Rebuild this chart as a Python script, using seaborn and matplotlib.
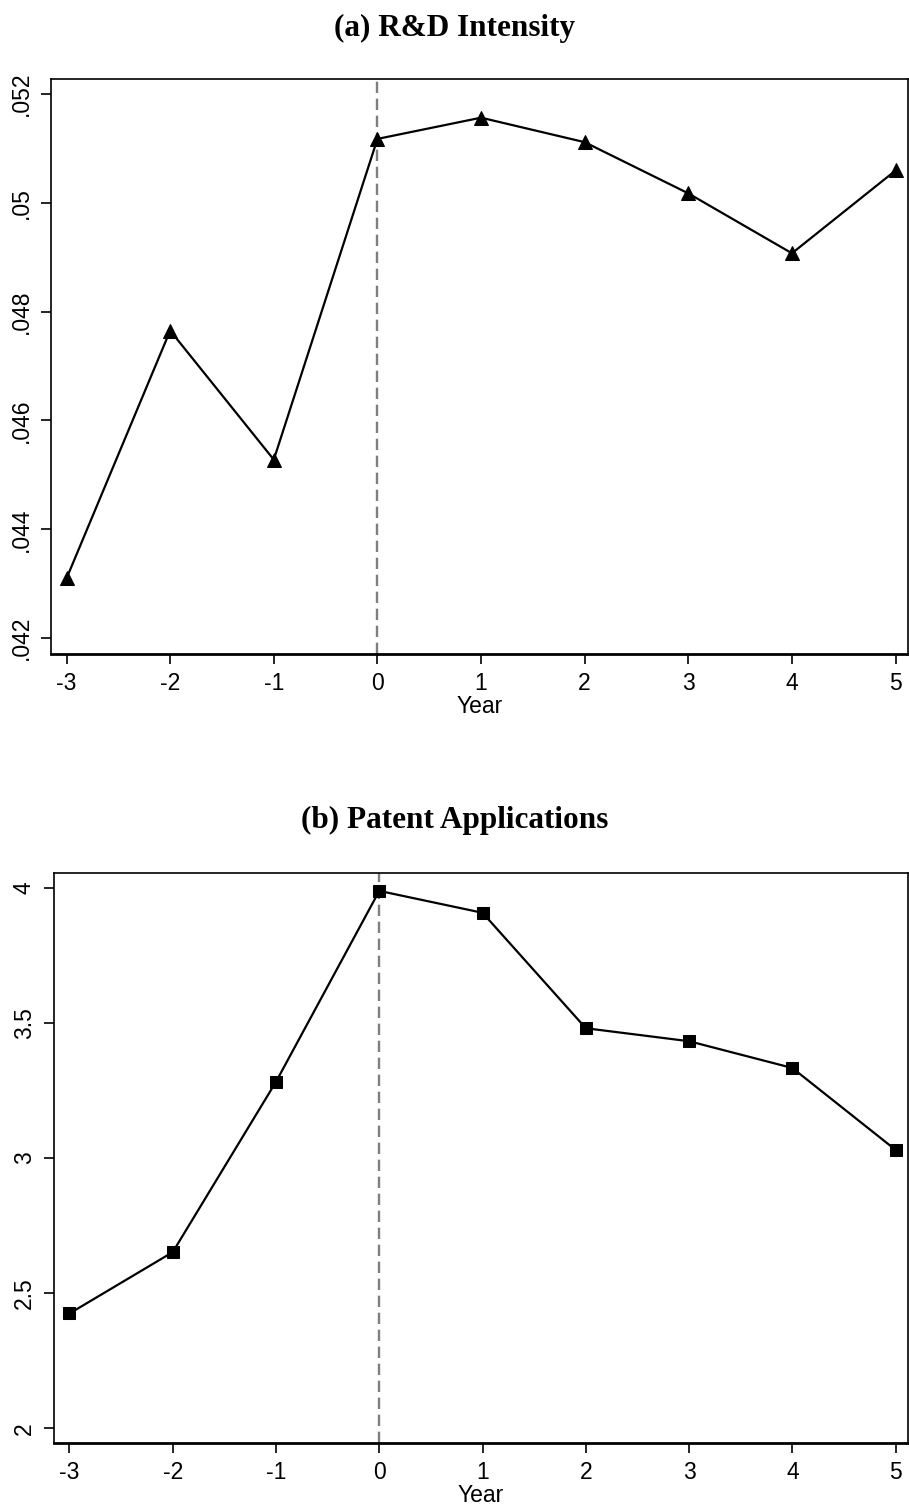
import matplotlib
matplotlib.use("Agg")
import matplotlib.pyplot as plt
import seaborn as sns
import pandas as pd

# data
years = [-3, -2, -1, 0, 1, 2, 3, 4, 5]
rd_intensity = [0.04310, 0.04765, 0.04528, 0.05117, 0.05156, 0.05111, 0.05017, 0.04907, 0.05059]
patents = [2.425, 2.652, 3.282, 3.988, 3.907, 3.480, 3.432, 3.333, 3.030]

rd_ticks = [0.042, 0.044, 0.046, 0.048, 0.050, 0.052]
rd_tick_labels = [".042", ".044", ".046", ".048", ".05", ".052"]
pat_ticks = [2, 2.5, 3, 3.5, 4]
pat_tick_labels = ["2", "2.5", "3", "3.5", "4"]

titles = ["(a) R&D Intensity", "(b) Patent Applications"]

sns.set_style("white")
plt.rcParams["font.family"] = ["Liberation Sans", "DejaVu Sans"]
plt.rcParams["text.color"] = "black"

df = pd.DataFrame({"Year": years, "rd": rd_intensity, "pat": patents})

fig = plt.figure(figsize=(9.09, 15.05), dpi=100)
ax1 = fig.add_axes([0.0561, 0.5654, 0.9428, 0.3821])
ax2 = fig.add_axes([0.0594, 0.0412, 0.9395, 0.3787])


def style_axis(ax, ticks, labels, ylim):
    ax.axvline(0, color="#7f7f7f", lw=1.7, ls=(0, (4.8, 2.4)), zorder=1)
    ax.set_xlim(-3.15, 5.12)
    ax.set_ylim(*ylim)
    ax.set_xticks(years)
    ax.set_xticklabels([str(y) for y in years])
    ax.set_yticks(ticks)
    ax.set_yticklabels(labels, rotation=90, va="center")
    ax.tick_params(axis="both", direction="out", length=7, width=1.2,
                   color="black", labelsize=16.5, pad=6, labelcolor="black")
    ax.xaxis.set_ticks_position("bottom")
    ax.yaxis.set_ticks_position("left")
    for s in ax.spines.values():
        s.set_color("black")
        s.set_linewidth(1.2)
    ax.spines["bottom"].set_linewidth(2)
    ax.set_xlabel("Year", fontsize=16.5, labelpad=0, color="black")
    ax.set_ylabel("")
    ax.grid(False)


sns.lineplot(data=df, x="Year", y="rd", ax=ax1, color="black", lw=1.6,
             marker="^", markersize=10, markeredgecolor="black",
             markerfacecolor="black", zorder=3)
style_axis(ax1, rd_ticks, rd_tick_labels, (0.04171, 0.05227))

sns.lineplot(data=df, x="Year", y="pat", ax=ax2, color="black", lw=1.6,
             marker="s", markersize=9, markeredgecolor="black",
             markerfacecolor="black", zorder=3)
style_axis(ax2, pat_ticks, pat_tick_labels, (1.946, 4.054))

fig.text(0.5, 1 - 28 / 1505, titles[0], ha="center", va="center", color="black",
         fontsize=22.5, fontweight="bold", family="Liberation Serif")
fig.text(0.5, 1 - 820 / 1505, titles[1], ha="center", va="center", color="black",
         fontsize=22.5, fontweight="bold", family="Liberation Serif")

fig.savefig("out.png", dpi=100)
